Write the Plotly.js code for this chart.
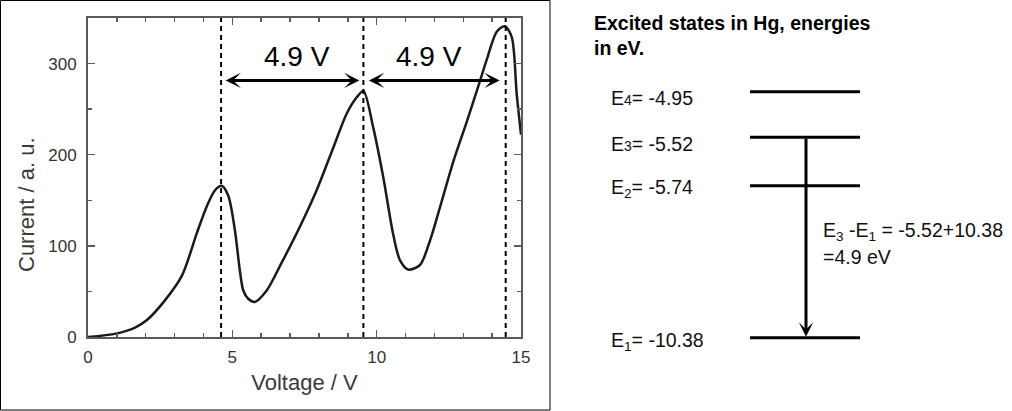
<!DOCTYPE html>
<html><head><meta charset="utf-8">
<script src="https://cdn.plot.ly/plotly-3.0.1.min.js"></script>
<style>html,body{margin:0;padding:0;background:#fff}#chart{width:1012px;height:411px}</style>
</head><body><div id="chart"></div>
<script>
// ---------- data ----------
const voltage = [0, 0.97, 1.63, 2.03, 2.61, 3.25, 3.77, 4.11, 4.40, 4.63, 4.86, 5.09, 5.26, 5.38, 5.55, 5.78, 6.19, 6.70, 7.34, 7.92, 8.50, 8.96, 9.31, 9.54, 9.88, 10.23, 10.57, 10.81, 11.09, 11.50, 11.85, 12.19, 12.65, 13.12, 13.58, 13.81, 14.16, 14.44, 14.68, 14.85, 15.0];
const current = [0, 3.7, 10.3, 18.3, 38, 67, 114, 143, 161, 166, 155, 117, 73, 51, 42, 38.5, 51, 81, 121, 161, 208, 245, 263, 270, 230, 175, 113, 84, 74, 79, 106, 142, 192, 236, 281, 304, 335, 341, 329, 267, 222];
const xTickVals = [0, 5, 10, 15];
const xTickText = ['0', '5', '10', '15'];
const yTickVals = [0, 100, 200, 300];
const yTickText = ['0', '100', '200', '300'];
const peakVoltages = [4.61, 9.54, 14.47];
const spacingLabels = ['4.9 V', '4.9 V'];
const xTitle = 'Voltage / V';
const yTitle = 'Current / a. u.';
const panelTitle = 'Excited states in Hg, energies<br>in eV.';
const levelIndex = ['4', '3', '2', '1'];
const levelEnergies = [-4.95, -5.52, -5.74, -10.38];

// ---------- layout helpers ----------
const L = 88, T = 18, W = 433, H = 319;
const px2x = p => (p - L) / W;
const px2y = p => (T + H - p) / H;
const FONT = 'Liberation Sans, Arial, Helvetica, sans-serif';
const AXC = '#5a5a5a';

const shapes = [];
const annotations = [];

// outer frame of left panel
shapes.push({type: 'rect', xref: 'paper', yref: 'paper', x0: px2x(0.5), x1: px2x(550), y0: px2y(410), y1: px2y(0.5), line: {color: '#000', width: 1}});

// dashed lines at peaks
peakVoltages.forEach(v => shapes.push({type: 'line', xref: 'x', yref: 'paper', x0: v, x1: v, y0: 0, y1: 1, line: {color: '#000', width: 2, dash: '5px,4px'}}));

// double arrows between peaks
const arrowY = 281.5;
const endGaps = [[3, 4], [4, 6]];
for (let i = 0; i < 2; i++) {
  annotations.push({x: peakVoltages[i + 1], y: arrowY, ax: peakVoltages[i], ay: arrowY, xref: 'x', yref: 'y', axref: 'x', ayref: 'y',
    text: '', showarrow: true, arrowside: 'end+start', arrowhead: 3, startarrowhead: 3, arrowsize: 0.85, startarrowsize: 0.85,
    arrowwidth: 3, arrowcolor: '#000', standoff: endGaps[i][1], startstandoff: endGaps[i][0]});
}
const labelX = [7.24, 11.81];
spacingLabels.forEach((t, i) => annotations.push({x: labelX[i], y: 308, xref: 'x', yref: 'y', text: t, showarrow: false,
  font: {family: FONT, size: 28, color: '#000'}, xanchor: 'center', yanchor: 'middle'}));

// y axis title
annotations.push({xref: 'paper', yref: 'paper', x: px2x(27), y: px2y(204), text: yTitle, textangle: -90, showarrow: false,
  font: {family: FONT, size: 22, color: '#3a3a3a'}, xanchor: 'center', yanchor: 'middle'});

// right panel
annotations.push({xref: 'paper', yref: 'paper', x: px2x(592), y: px2y(10), text: '<b>' + panelTitle + '</b>', showarrow: false, align: 'left',
  font: {family: FONT, size: 19.5, color: '#000'}, xanchor: 'left', yanchor: 'top'});

const levelLinePx = [91.7, 137.3, 185.7, 337.7];
const levelLabelPx = [98, 144, 188, 341];
levelEnergies.forEach((e, i) => {
  shapes.push({type: 'line', xref: 'paper', yref: 'paper', x0: px2x(750), x1: px2x(860), y0: px2y(levelLinePx[i]), y1: px2y(levelLinePx[i]), line: {color: '#000', width: 3}});
  const idx = i < 2 ? '<span style="font-size:14px">' + levelIndex[i] + '</span>' : '<sub>' + levelIndex[i] + '</sub>';
  annotations.push({xref: 'paper', yref: 'paper', x: px2x(609), y: px2y(levelLabelPx[i]), text: 'E' + idx + '= ' + e.toFixed(2), showarrow: false,
    font: {family: FONT, size: 19.5, color: '#111'}, xanchor: 'left', yanchor: 'middle'});
});

// transition arrow E3 -> E1
annotations.push({xref: 'paper', yref: 'paper', x: px2x(806), y: px2y(levelLinePx[3] - 1), ax: 0, ay: -(levelLinePx[3] - 1 - levelLinePx[1]),
  text: '', showarrow: true, arrowhead: 3, arrowsize: 0.8, arrowwidth: 3, arrowcolor: '#000', standoff: 0, startstandoff: 0});
const e3 = levelEnergies[1], e1 = levelEnergies[3];
annotations.push({xref: 'paper', yref: 'paper', x: px2x(821), y: px2y(231), text: 'E<sub>3</sub> -E<sub>1</sub> = ' + e3.toFixed(2) + '+' + (-e1).toFixed(2),
  showarrow: false, font: {family: FONT, size: 19.5, color: '#111'}, xanchor: 'left', yanchor: 'middle'});
annotations.push({xref: 'paper', yref: 'paper', x: px2x(821), y: px2y(257), text: '=' + (e3 - e1).toFixed(1) + ' eV',
  showarrow: false, font: {family: FONT, size: 19.5, color: '#111'}, xanchor: 'left', yanchor: 'middle'});

const trace = {x: voltage, y: current, type: 'scatter', mode: 'lines', line: {color: '#1a1a1a', width: 2.5, shape: 'spline', smoothing: 0.8}, hoverinfo: 'skip'};

const axisCommon = {showline: true, linecolor: AXC, linewidth: 2, mirror: 'ticks', ticks: 'inside', tickcolor: AXC, tickwidth: 1.5, ticklen: 7,
  showgrid: false, zeroline: false, tickfont: {family: FONT, size: 17, color: '#333'}, fixedrange: true};

const layout = {
  width: 1012, height: 411,
  margin: {l: L, r: 1012 - L - W, t: T, b: 411 - T - H, pad: 0},
  paper_bgcolor: '#fff', plot_bgcolor: '#fff', showlegend: false,
  xaxis: Object.assign({}, axisCommon, {range: [0, 15], tickvals: xTickVals, ticktext: xTickText, ticklabelstandoff: 4,
    minor: {dtick: 1, ticks: 'inside', ticklen: 4, tickcolor: AXC, tickwidth: 1.5},
    title: {text: xTitle, font: {family: FONT, size: 22, color: '#3a3a3a'}, standoff: 8}}),
  yaxis: Object.assign({}, axisCommon, {range: [0, 350], tickvals: yTickVals, ticktext: yTickText, ticklabelstandoff: 6,
    minor: {dtick: 50, ticks: 'inside', ticklen: 4, tickcolor: AXC, tickwidth: 1.5}}),
  shapes: shapes, annotations: annotations
};
Plotly.newPlot('chart', [trace], layout, {staticPlot: true, displayModeBar: false});
</script></body></html>
